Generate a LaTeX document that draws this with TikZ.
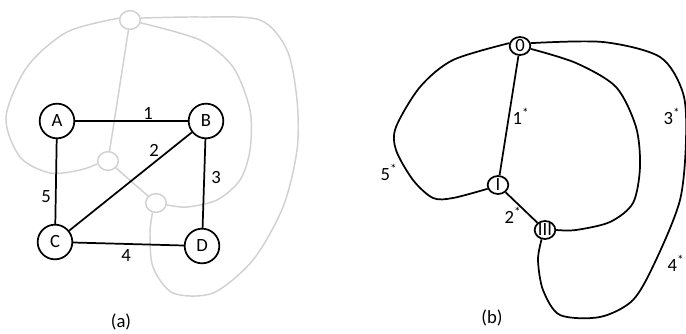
\documentclass[tikz,border=0pt]{standalone}
\usepackage{fontspec}
\setmainfont{Carlito}
\usetikzlibrary{shapes.geometric}
\tikzset{vtx/.style={draw,circle,line width=1.3pt,minimum size=26pt,inner sep=0pt},
  gv/.style={draw=black!18,ellipse,line width=1.1pt,minimum width=15.5pt,minimum height=14pt,inner sep=0pt},
  fv/.style={draw,ellipse,line width=1.3pt,minimum width=15.5pt,minimum height=13.5pt,inner sep=0pt},
  gline/.style={draw=black!18,line width=1.1pt},
  bline/.style={line width=1.3pt}}

\begin{document}
\begin{tikzpicture}[x=.75pt,y=-.75pt,font=\fontsize{14}{16}\selectfont]
\useasboundingbox (0,0) rectangle (686,333);
\node[gv] (T) at (130,20) {}; \node[gv] (L) at (108,161) {}; \node[gv] (R) at (156,203) {};
\draw[gline] (T)--(L); \draw[gline] (L)--(R);
\draw[gline] plot[smooth] coordinates {(T.170) (67,32) (27,67) (6,117) (20,157) (50,173) (80,170) (L.195)};
\draw[gline] plot[smooth] coordinates {(T.-15) (200,40) (233,67) (250,110) (250,150) (240,180) (217,200) (187,207) (R.-10)};
\draw[gline] plot[smooth] coordinates {(T.10) (200,17) (260,20) (287,50) (297,100) (297,150) (283,207) (253,260) (213,293) (173,293) (153,267) (150,233) (R.250)};
\node[vtx] (A) at (57,121) {A}; \node[vtx] (B) at (206,121) {B}; \node[vtx] (C) at (55,242) {C}; \node[vtx] (D) at (202,246) {D};
\draw[bline] (A)--(B); \draw[bline] (C)--(B); \draw[bline] (B)--(D); \draw[bline] (C)--(D); \draw[bline] (A)--(C);
\node (e1) at (148,113) {1}; \node (e2) at (154,150) {2}; \node (e3) at (216,178) {3}; \node (e4) at (126,256) {4}; \node (e5) at (46,197) {5};
\node (ca) at (121,322) {(a)};
\node[fv] (O) at (520,46) {0}; \node[fv] (I) at (498,185) {I}; \node[fv] (III) at (545,230) {III};
\draw[bline] (O)--(I); \draw[bline] (I)--(III);
\draw[bline] plot[smooth] coordinates {(O.165) (453,60) (420,87) (396,127) (396,150) (413,180) (433,198) (453,198) (I.200)};
\draw[bline] plot[smooth] coordinates {(O.-15) (576,63) (616,87) (636,127) (640,167) (633,203) (610,222) (576,230) (III.east)};
\draw[bline] plot[smooth] coordinates {(O.15) (603,42) (660,57) (683,93) (686,140) (680,200) (656,260) (633,300) (600,317) (560,315) (543,290) (538,260) (III.250)};
\node (f1) at (521,116) {1\textsuperscript{*}}; \node (f2) at (513,215) {2\textsuperscript{*}}; \node (f3) at (672,116) {3\textsuperscript{*}};
\node (f4) at (676,263) {4\textsuperscript{*}}; \node (f5) at (389,172) {5\textsuperscript{*}};
\node (cb) at (492,318) {(b)};
\end{tikzpicture}
\end{document}
